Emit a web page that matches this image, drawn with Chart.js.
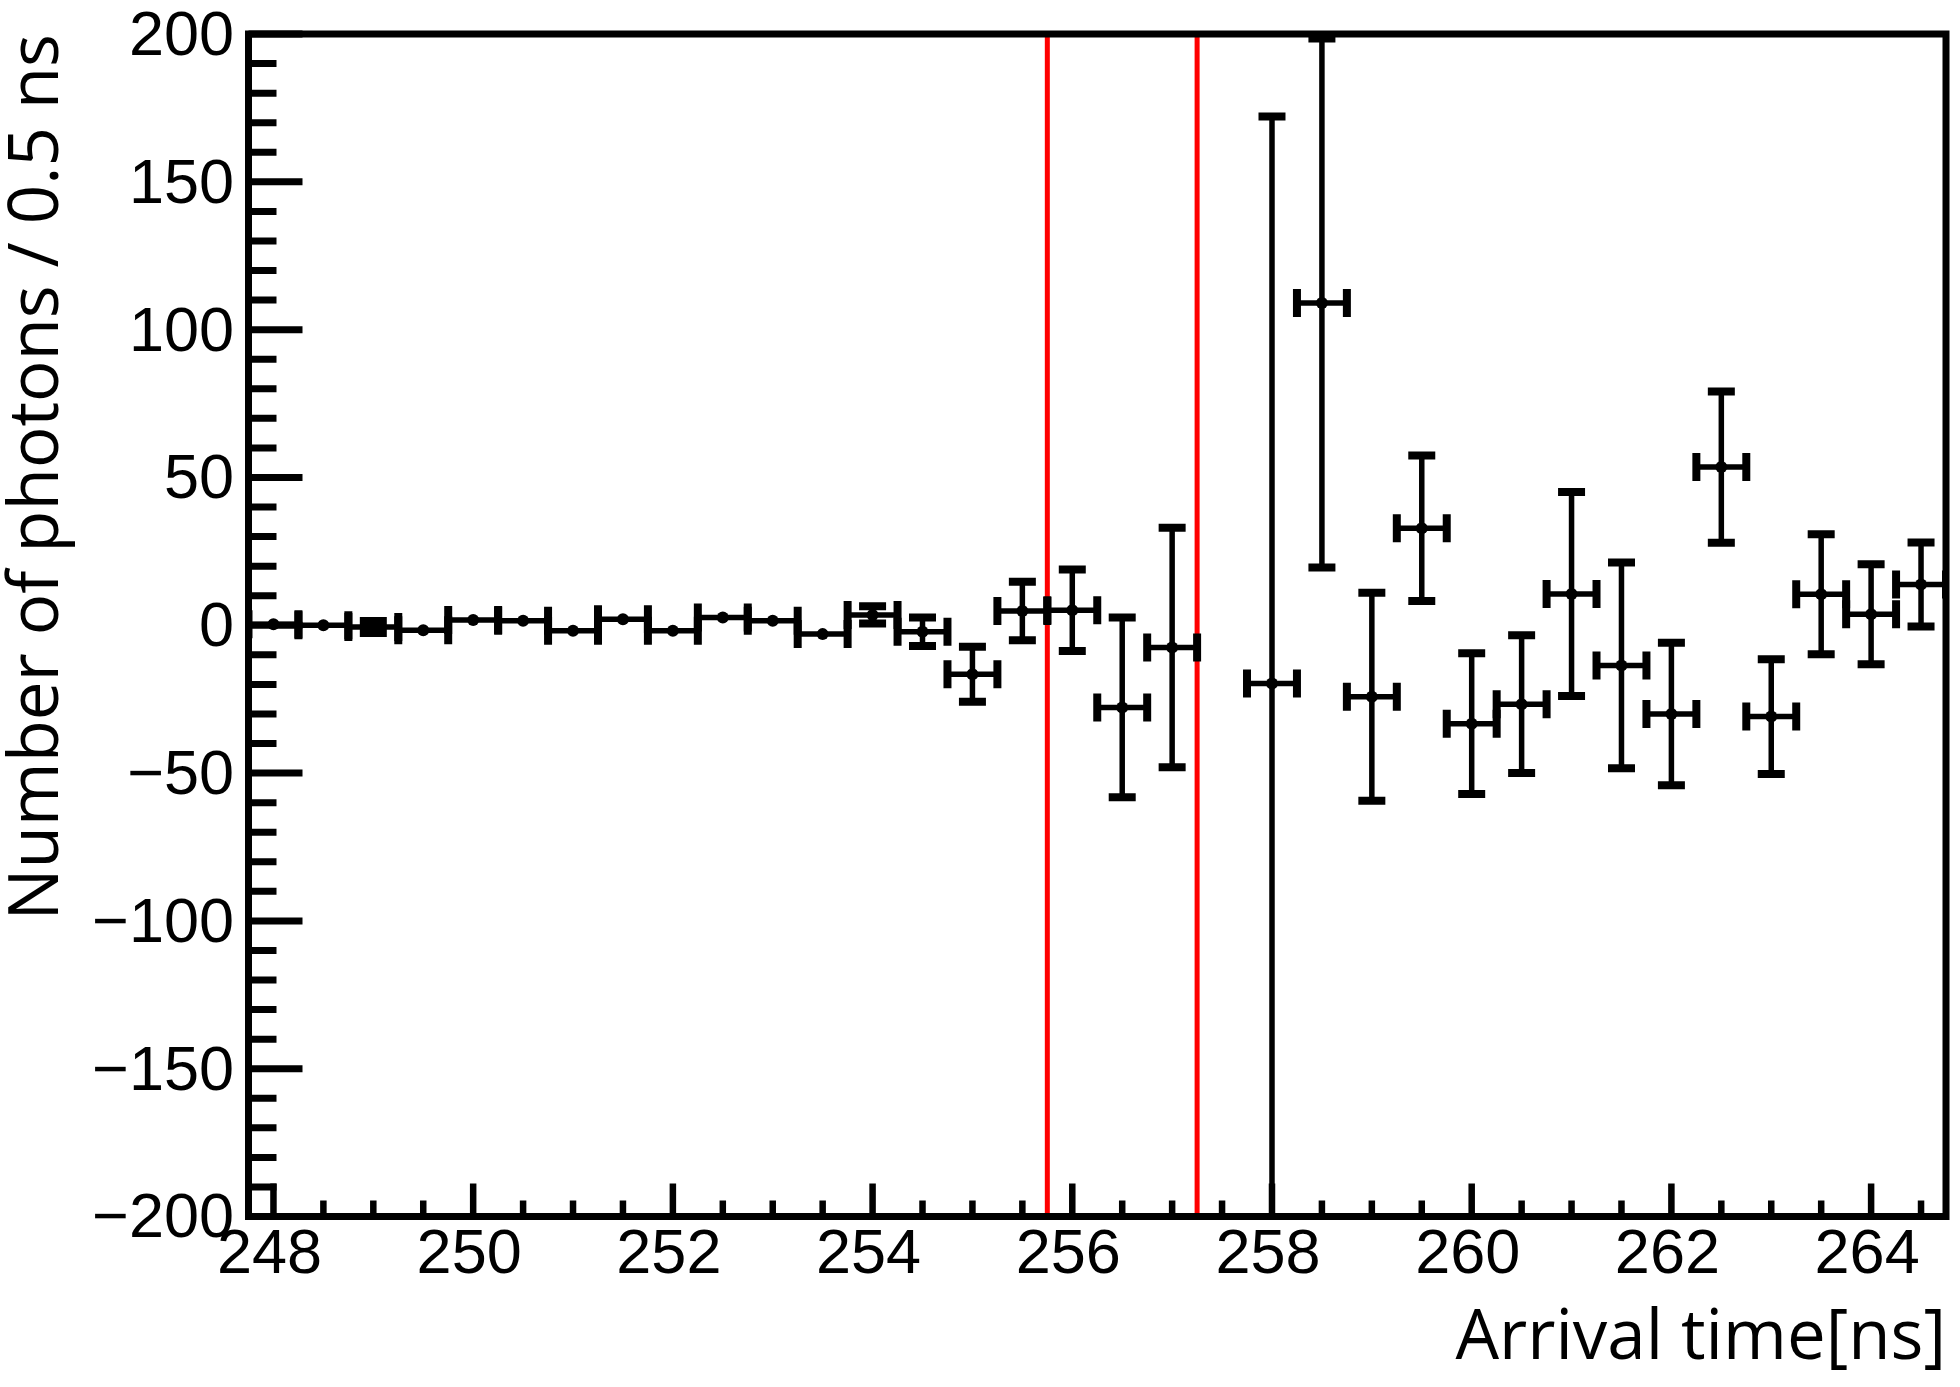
<!DOCTYPE html>
<html>
<head>
<meta charset="utf-8">
<script src="https://cdn.jsdelivr.net/npm/chart.js@4.4.1/dist/chart.umd.min.js"></script>
<style>
html,body{margin:0;padding:0;background:#ffffff;}
#wrap{width:1960px;height:1387px;position:relative;}
</style>
</head>
<body>
<div id="wrap"><canvas id="c" width="1960" height="1387"></canvas></div>
<script>
// ---- data ----
const binCenters = [248, 248.5, 249, 249.5, 250, 250.5, 251, 251.5, 252, 252.5, 253, 253.5, 254, 254.5,
                    255, 255.5, 256, 256.5, 257, 257.5, 258, 258.5, 259, 259.5, 260, 260.5, 261, 261.5,
                    262, 262.5, 263, 263.5, 264, 264.5];
const counts = [0.3, 0, -0.6, -1.7, 1.8, 1.5, -1.9, 2.0, -1.9, 2.6, 1.5, -3.0, 3.5, -2.2,
                -16.6, 4.8, 5.1, -27.8, -7.5, null, -19.7, 109.0, -24.2, 32.8, -33.3, -26.7, 10.6, -13.6,
                -30.0, 53.5, -30.9, 10.5, 3.7, 13.75];
const countErrors = [0, 0, 2.0, 0, 0, 0, 0, 0, 0, 0, 0, 0, 2.9, 4.8,
                     9.3, 9.9, 13.8, 30.4, 40.5, null, 191.8, 89.5, 35.2, 24.6, 23.8, 23.3, 34.5, 34.8,
                     24.1, 25.6, 19.4, 20.3, 16.9, 14.2];
const binHalfWidths = binCenters.map(() => 0.25);
const windowEdges = [255.75, 257.25];
const xTickLabels = [248, 250, 252, 254, 256, 258, 260, 262, 264];
const yTickLabels = [-200, -150, -100, -50, 0, 50, 100, 150, 200];
const xRange = [247.75, 264.75];
const yRange = [-200, 200];
const xMinorStep = 0.5;
const yMinorStep = 10;

const LABEL_FONT = "'Liberation Sans', Arial, Helvetica, sans-serif";
const TITLE_FONT = "'Open Sans', 'Liberation Sans', Arial, sans-serif";

const pointData = [];
binCenters.forEach((x, i) => { if (counts[i] !== null) pointData.push({x: x, y: counts[i]}); });

const windowDatasets = windowEdges.map(x => ({
  type: 'line',
  data: [{x: x, y: yRange[0]}, {x: x, y: yRange[1]}],
  showLine: true,
  borderColor: '#ff0000',
  borderWidth: 5,
  pointRadius: 0,
  order: 3
}));

const errorBarPlugin = {
  id: 'errorBars',
  afterDatasetsDraw(chart) {
    const {ctx, chartArea: a, scales: {x, y}} = chart;
    ctx.save();
    ctx.beginPath();
    ctx.rect(a.left, a.top, a.right - a.left, a.bottom - a.top);
    ctx.clip();
    ctx.strokeStyle = '#000000';
    ctx.lineCap = 'butt';
    binCenters.forEach((xc, i) => {
      const v = counts[i];
      if (v === null) return;
      const px = x.getPixelForValue(xc);
      const py = y.getPixelForValue(v);
      const pl = x.getPixelForValue(xc - binHalfWidths[i]);
      const pr = x.getPixelForValue(xc + binHalfWidths[i]);
      ctx.lineWidth = 5.5;
      ctx.beginPath(); ctx.moveTo(pl, py); ctx.lineTo(pr, py); ctx.stroke();
      ctx.lineWidth = 8;
      ctx.beginPath();
      ctx.moveTo(pl, py - 14); ctx.lineTo(pl, py + 14);
      ctx.moveTo(pr, py - 14); ctx.lineTo(pr, py + 14);
      ctx.stroke();
      const e = countErrors[i];
      if (e > 0) {
        const pt = y.getPixelForValue(v + e);
        const pb = y.getPixelForValue(v - e);
        ctx.lineWidth = 5.5;
        ctx.beginPath(); ctx.moveTo(px, pt); ctx.lineTo(px, pb); ctx.stroke();
        ctx.lineWidth = 8;
        ctx.beginPath();
        ctx.moveTo(px - 13.5, pt); ctx.lineTo(px + 13.5, pt);
        ctx.moveTo(px - 13.5, pb); ctx.lineTo(px + 13.5, pb);
        ctx.stroke();
      }
    });
    ctx.restore();
  }
};

const framePlugin = {
  id: 'rootFrame',
  afterDraw(chart) {
    const {ctx, chartArea: a, scales: {x, y}} = chart;
    ctx.save();
    ctx.strokeStyle = '#000000';
    ctx.lineCap = 'butt';
    // y ticks (inside, on left axis)
    ctx.lineWidth = 7;
    ctx.beginPath();
    for (let v = yRange[0]; v <= yRange[1] + 1e-9; v += yMinorStep) {
      const py = y.getPixelForValue(v);
      const major = yTickLabels.some(t => Math.abs(t - v) < 1e-6);
      ctx.moveTo(a.left, py);
      ctx.lineTo(a.left + (major ? 54 : 28), py);
    }
    ctx.stroke();
    // x ticks (inside, on bottom axis)
    ctx.lineWidth = 6.5;
    ctx.beginPath();
    for (let v = xTickLabels[0]; v <= xRange[1] + 1e-9; v += xMinorStep) {
      const px = x.getPixelForValue(v);
      const major = xTickLabels.some(t => Math.abs(t - v) < 1e-6);
      ctx.moveTo(px, a.bottom);
      ctx.lineTo(px, a.bottom - (major ? 33 : 16));
    }
    ctx.stroke();
    // frame
    ctx.lineWidth = 7;
    ctx.strokeRect(a.left, a.top, a.right - a.left, a.bottom - a.top);
    ctx.restore();
  }
};

new Chart(document.getElementById('c'), {
  type: 'scatter',
  data: {
    datasets: [
      {
        type: 'scatter',
        data: pointData,
        pointRadius: 6,
        pointBackgroundColor: '#000000',
        pointBorderWidth: 0,
        borderColor: '#000000',
        order: 1
      },
      ...windowDatasets
    ]
  },
  options: {
    responsive: false,
    animation: false,
    devicePixelRatio: 1,
    layout: {padding: {left: 0, right: 14, top: 34, bottom: 0}},
    plugins: {legend: {display: false}, tooltip: {enabled: false}},
    scales: {
      x: {
        type: 'linear',
        position: 'bottom',
        min: xRange[0],
        max: xRange[1],
        afterBuildTicks: s => { s.ticks = xTickLabels.map(v => ({value: v})); },
        afterFit: s => { s.height = 1387 - 1216.5; s.paddingLeft = 0; s.paddingRight = 0; s.paddingTop = 0; s.paddingBottom = 0; },
        grid: {display: false, drawTicks: false},
        border: {display: false},
        ticks: {
          autoSkip: false, maxRotation: 0, minRotation: 0,
          padding: 7.5, labelOffset: -4, color: '#000000',
          font: {family: LABEL_FONT, size: 63, lineHeight: 1},
          callback: v => String(v)
        },
        title: {
          display: true, text: 'Arrival time[ns]', align: 'end', color: '#000000',
          font: {family: TITLE_FONT, size: 69, lineHeight: 1},
          padding: {top: 0, bottom: 13}
        }
      },
      y: {
        type: 'linear',
        position: 'left',
        min: yRange[0],
        max: yRange[1],
        afterBuildTicks: s => { s.ticks = yTickLabels.map(v => ({value: v})); },
        afterFit: s => { s.width = 248.5; s.paddingTop = 0; s.paddingBottom = 0; s.paddingLeft = 0; s.paddingRight = 0; },
        grid: {display: false, drawTicks: false},
        border: {display: false},
        ticks: {
          autoSkip: false, padding: 14.5, labelOffset: 3.5, color: '#000000',
          font: {family: LABEL_FONT, size: 63, lineHeight: 1},
          callback: v => (v < 0 ? '\u2212' + Math.abs(v) : String(v))
        },
        title: {
          display: true, text: 'Number of photons / 0.5 ns', align: 'end', color: '#000000',
          font: {family: TITLE_FONT, size: 69, lineHeight: 1},
          padding: {top: 3.5, bottom: 0}
        }
      }
    }
  },
  plugins: [errorBarPlugin, framePlugin]
});
</script>
</body>
</html>
